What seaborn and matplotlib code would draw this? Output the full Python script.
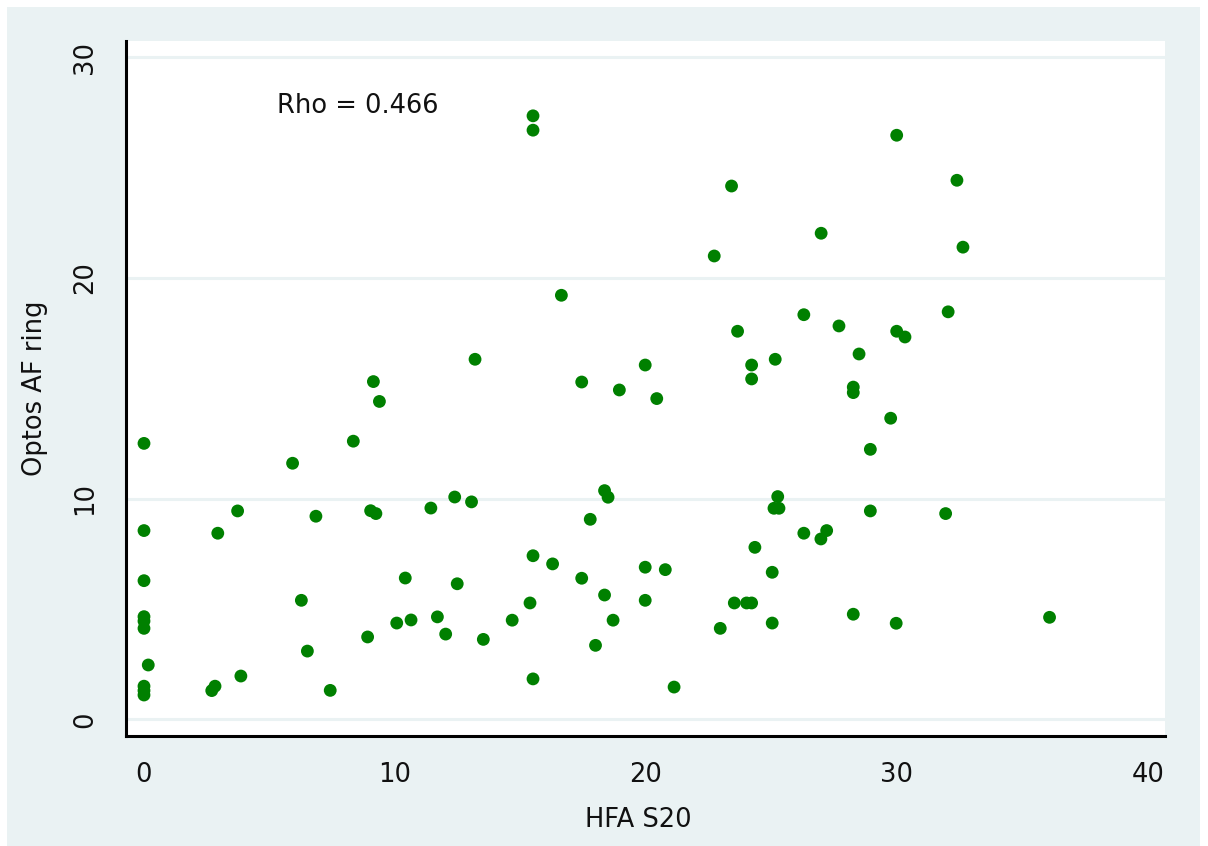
import matplotlib
matplotlib.use("Agg")
import matplotlib.pyplot as plt
from matplotlib.patches import Rectangle
import seaborn as sns
import pandas as pd

# HFA S20 values
hfa_s20 = [
    0, 9.14, 9.38, 8.34, 5.92, 0, 2.94, 3.73, 6.85, 9.03,
    9.24, 11.43, 12.38, 13.05, 0, 0, 0, 0, 0.17, 0,
    0, 0, 2.70, 2.83, 3.86, 6.27, 6.51, 7.42, 10.41, 12.48,
    10.07, 10.64, 11.69, 12.02, 13.52, 8.91, 15.5, 15.5, 23.41, 26.98,
    22.72, 16.63, 26.29, 27.69, 23.65, 13.19, 19.97, 24.21, 25.15, 17.44,
    18.94, 20.43, 24.21, 29.99, 32.39, 32.63, 32.04, 29.99, 30.32, 28.49,
    28.26, 28.26, 29.75, 28.94, 18.35, 18.49, 17.78, 25.25, 25.1, 25.3,
    26.29, 26.97, 27.2, 24.34, 15.5, 16.28, 17.44, 19.97, 20.77, 25.03,
    18.35, 19.97, 15.38, 23.52, 24.01, 24.21, 14.67, 18.69, 25.03, 22.96,
    17.99, 15.5, 21.12, 28.94, 31.94, 28.26, 29.97, 36.08,
]

# Optos AF ring values
optos_af_ring = [
    12.5, 15.3, 14.4, 12.6, 11.6, 8.55, 8.43, 9.44, 9.2, 9.45,
    9.32, 9.57, 10.07, 9.85, 6.28, 4.65, 4.45, 4.12, 2.46, 1.5,
    1.3, 1.1, 1.3, 1.5, 1.96, 5.39, 3.09, 1.31, 6.4, 6.14,
    4.36, 4.5, 4.64, 3.86, 3.62, 3.73, 27.34, 26.69, 24.16, 22.02,
    20.99, 19.21, 18.33, 17.82, 17.58, 16.31, 16.05, 16.05, 16.31, 15.28,
    14.92, 14.53, 15.42, 26.46, 24.42, 21.39, 18.46, 17.58, 17.32, 16.55,
    15.05, 14.8, 13.64, 12.23, 10.36, 10.06, 9.06, 10.09, 9.56, 9.56,
    8.43, 8.17, 8.55, 7.79, 7.41, 7.04, 6.39, 6.89, 6.78, 6.66,
    5.63, 5.39, 5.27, 5.27, 5.27, 5.27, 4.49, 4.49, 4.36, 4.12,
    3.35, 1.83, 1.46, 9.44, 9.32, 4.76, 4.35, 4.62,
]

x_ticks = [0, 10, 20, 30, 40]
y_ticks = [0, 10, 20, 30]
rho_label = "Rho = 0.466"

df = pd.DataFrame({"HFA S20": hfa_s20, "Optos AF ring": optos_af_ring})

BG = "#EAF2F3"
sns.set_style("white")
plt.rcParams["font.family"] = ["DejaVu Sans"]

W, H = 1208, 846
fig = plt.figure(figsize=(W / 100, H / 100), dpi=100, facecolor="white")
# light graph region inside a thin white margin
fig.patches.append(Rectangle((7 / W, 0), (1200 - 7) / W, (H - 7) / H,
                             transform=fig.transFigure, facecolor=BG,
                             edgecolor="none", zorder=-10))

ax = fig.add_axes([126 / W, (H - 736) / H, (1165 - 126) / W, (736 - 41) / H])
ax.set_zorder(1)
ax.set_facecolor("white")

sns.scatterplot(data=df, x="HFA S20", y="Optos AF ring", ax=ax,
                color="#008000", s=85, edgecolor="none", linewidth=0,
                zorder=3)

ax.set_xlim(-0.717, 40.68)
ax.set_ylim(-0.757, 30.73)
ax.set_xticks(x_ticks)
ax.set_yticks(y_ticks)

ax.yaxis.grid(True, color=BG, linewidth=2.2)
ax.xaxis.grid(False)
ax.set_axisbelow(True)

for side in ("top", "right"):
    ax.spines[side].set_visible(False)
for side in ("left", "bottom"):
    ax.spines[side].set_color("black")
    ax.spines[side].set_linewidth(2.2)

FS = 18.5
ax.tick_params(axis="both", direction="out", length=9, width=1.6,
               color="black", labelsize=FS, labelcolor="#111111")
ax.tick_params(axis="x", pad=10)
ax.tick_params(axis="y", pad=11)
for lab in ax.get_yticklabels():
    lab.set_rotation(90)
    lab.set_va("center")

ax.set_xlabel("HFA S20", fontsize=FS, color="#111111", va="center")
ax.set_ylabel("Optos AF ring", fontsize=FS, color="#111111", va="center")
ax.xaxis.set_label_coords((638 - 126) / (1165 - 126), -(820 - 736) / (736 - 41))
ax.yaxis.set_label_coords(-(126 - 35) / (1165 - 126), 0.5)

ax.text(5.3, 27.8, rho_label, fontsize=FS, color="#111111",
        ha="left", va="center")

fig.savefig("out.png", dpi=100, facecolor=fig.get_facecolor())
